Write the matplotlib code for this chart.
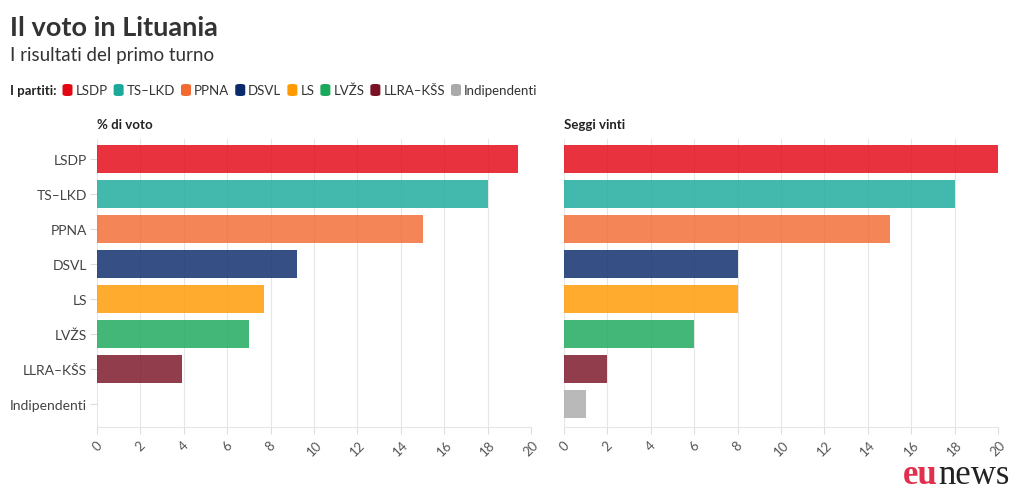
import matplotlib
matplotlib.use("Agg")
import matplotlib.pyplot as plt
from matplotlib.patches import FancyBboxPatch

parties = ["LSDP", "TS–LKD", "PPNA", "DSVL", "LS", "LVŽS", "LLRA–KŠS", "Indipendenti"]
vote_pct = [19.4, 18.0, 15.0, 9.2, 7.7, 7.0, 3.9, 0]
seats = [20, 18, 15, 8, 8, 6, 2, 1]
colors = ["#e30613", "#1aa99b", "#f26a32", "#0a2a6b", "#ff9a00", "#1aa85a", "#7a1225", "#aaaaaa"]
xticks = [0, 2, 4, 6, 8, 10, 12, 14, 16, 18, 20]

plt.rcParams['font.family'] = ['Lato', 'DejaVu Sans']

W, H = 1020, 502
fig = plt.figure(figsize=(W / 100, H / 100), dpi=100)
renderer = fig.canvas.get_renderer()

def fx(px):
    return px / W

def fy(py):
    return 1 - py / H

def text_width_px(t):
    return t.get_window_extent(renderer=renderer).width

def make_ax(x0, x1, values, show_labels, title):
    ax = fig.add_axes([fx(x0), fy(428), fx(x1) - fx(x0), fy(140) - fy(428)])
    ypos = list(range(len(parties)))
    ax.barh(ypos, values, height=0.8, color=colors, alpha=0.82, zorder=3)
    ax.set_xlim(0, 20)
    ax.set_ylim(7.657, -0.571)
    ax.set_xticks(xticks)
    ax.set_xticklabels([str(t) for t in xticks], rotation=45, ha='center', va='top',
                       fontsize=9.5, color="#555555")
    ax.set_yticks(ypos)
    if show_labels:
        ax.set_yticklabels(parties, fontsize=10, color="#444444")
        ax.tick_params(axis='y', color="#dddddd", length=5, pad=2)
    else:
        ax.set_yticklabels([])
        ax.tick_params(axis='y', length=0)
    ax.tick_params(axis='x', color="#dddddd", length=5, pad=3)
    ax.grid(axis='x', color="#e6e6e6", linewidth=0.8, zorder=0)
    for s in ax.spines.values():
        s.set_visible(False)
    ax.spines['bottom'].set_visible(True)
    ax.spines['bottom'].set_color("#e6e6e6")
    fig.text(fx(x0), fy(125), title, fontsize=9.5, fontweight='bold', color="#222222",
             va='center', ha='left')
    return ax

make_ax(97, 531, vote_pct, True, "% di voto")
make_ax(564, 998, seats, False, "Seggi vinti")

# Title and subtitle
fig.text(fx(10), fy(28), "Il voto in Lituania", fontsize=19.5, fontweight='bold',
         color="#333333", va='center', ha='left')
fig.text(fx(10), fy(56), "I risultati del primo turno", fontsize=13.5,
         color="#333333", va='center', ha='left')

# Legend laid out sequentially
lab = fig.text(fx(10), fy(91), "I partiti:", fontsize=9.5, fontweight='bold', color="#222222",
               va='center', ha='left')
cur = 10 + text_width_px(lab) + 6
for name, c in zip(parties, colors):
    box = FancyBboxPatch((fx(cur), fy(97)), fx(10), fy(85) - fy(97),
                         boxstyle="round,pad=0,rounding_size=0.004",
                         transform=fig.transFigure, facecolor=c, edgecolor='none')
    fig.patches.append(box)
    t = fig.text(fx(cur + 13), fy(91), name, fontsize=9.5, color="#333333",
                 va='center', ha='left')
    cur = cur + 13 + text_width_px(t) + 6

# Logo
serif = ['Liberation Serif', 'DejaVu Serif']
tn = fig.text(fx(1010), fy(476), "news", fontsize=25, color="#222222",
              family=serif, va='center', ha='right')
wn = text_width_px(tn)
fig.text(fx(1010 - wn - 1), fy(476), "eu", fontsize=25, fontweight='bold', color="#e0304e",
         family=serif, va='center', ha='right')

fig.savefig("out.png", dpi=100)
